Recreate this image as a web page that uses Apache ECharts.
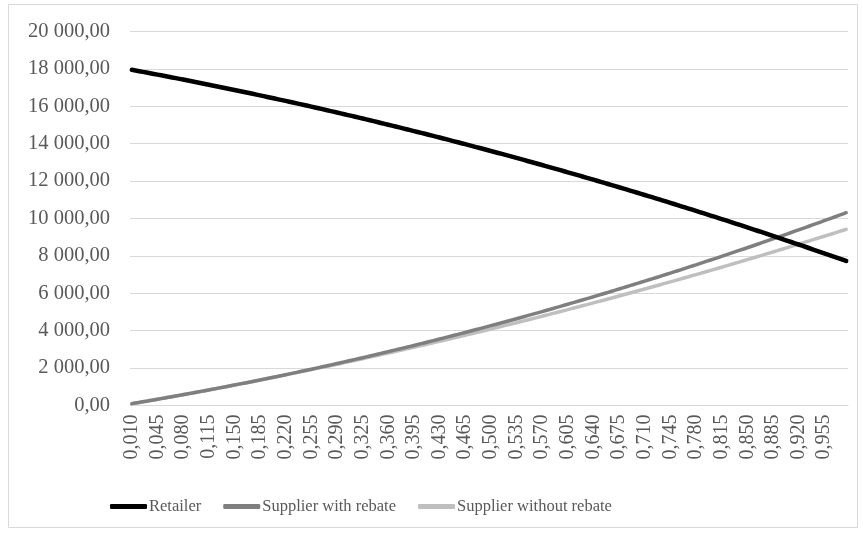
<!DOCTYPE html>
<html>
<head>
<meta charset="utf-8">
<script src="https://cdn.jsdelivr.net/npm/echarts@6/dist/echarts.min.js"></script>
<style>
html,body{margin:0;padding:0;background:#fff;}
#chart{width:863px;height:535px;}
</style>
</head>
<body>
<div id="chart"></div>
<script>
var categories = [
'0,010','0,015','0,020','0,025','0,030','0,035','0,040','0,045','0,050','0,055',
'0,060','0,065','0,070','0,075','0,080','0,085','0,090','0,095','0,100','0,105',
'0,110','0,115','0,120','0,125','0,130','0,135','0,140','0,145','0,150','0,155',
'0,160','0,165','0,170','0,175','0,180','0,185','0,190','0,195','0,200','0,205',
'0,210','0,215','0,220','0,225','0,230','0,235','0,240','0,245','0,250','0,255',
'0,260','0,265','0,270','0,275','0,280','0,285','0,290','0,295','0,300','0,305',
'0,310','0,315','0,320','0,325','0,330','0,335','0,340','0,345','0,350','0,355',
'0,360','0,365','0,370','0,375','0,380','0,385','0,390','0,395','0,400','0,405',
'0,410','0,415','0,420','0,425','0,430','0,435','0,440','0,445','0,450','0,455',
'0,460','0,465','0,470','0,475','0,480','0,485','0,490','0,495','0,500','0,505',
'0,510','0,515','0,520','0,525','0,530','0,535','0,540','0,545','0,550','0,555',
'0,560','0,565','0,570','0,575','0,580','0,585','0,590','0,595','0,600','0,605',
'0,610','0,615','0,620','0,625','0,630','0,635','0,640','0,645','0,650','0,655',
'0,660','0,665','0,670','0,675','0,680','0,685','0,690','0,695','0,700','0,705',
'0,710','0,715','0,720','0,725','0,730','0,735','0,740','0,745','0,750','0,755',
'0,760','0,765','0,770','0,775','0,780','0,785','0,790','0,795','0,800','0,805',
'0,810','0,815','0,820','0,825','0,830','0,835','0,840','0,845','0,850','0,855',
'0,860','0,865','0,870','0,875','0,880','0,885','0,890','0,895','0,900','0,905',
'0,910','0,915','0,920','0,925','0,930','0,935','0,940','0,945','0,950','0,955',
'0,960','0,965','0,970','0,975','0,980','0,985'
];

var retailer = [
17950,17914,17878,17841,17805,17768,17731,17694,17656,17619,
17581,17543,17505,17467,17429,17390,17352,17313,17274,17235,
17195,17156,17116,17076,17036,16996,16956,16915,16875,16834,
16793,16752,16710,16669,16627,16585,16543,16501,16459,16416,
16373,16331,16288,16244,16201,16158,16114,16070,16026,15982,
15937,15893,15848,15803,15758,15713,15668,15622,15576,15531,
15485,15438,15392,15345,15299,15252,15205,15158,15110,15063,
15015,14967,14919,14871,14822,14774,14725,14676,14627,14578,
14529,14479,14429,14379,14329,14279,14229,14178,14127,14076,
14025,13974,13923,13871,13819,13768,13715,13663,13611,13558,
13505,13453,13399,13346,13293,13239,13185,13132,13077,13023,
12969,12914,12859,12805,12749,12694,12639,12583,12527,12471,
12415,12359,12303,12246,12189,12132,12075,12018,11960,11903,
11845,11787,11729,11671,11612,11554,11495,11436,11377,11318,
11258,11199,11139,11079,11019,10958,10898,10837,10776,10716,
10654,10593,10532,10470,10408,10346,10284,10222,10159,10097,
10034,9971,9908,9844,9781,9717,9654,9590,9525,9461,
9397,9332,9267,9202,9137,9072,9006,8941,8875,8809,
8743,8676,8610,8543,8476,8409,8342,8275,8207,8140,
8072,8004,7936,7867,7799,7730
];

var supplierWithRebate = [
100,133,165,199,232,265,299,333,367,402,
436,471,506,541,576,612,648,684,720,756,
793,829,866,904,941,979,1016,1054,1093,1131,
1170,1208,1247,1287,1326,1366,1405,1445,1486,1526,
1567,1607,1648,1690,1731,1773,1815,1857,1899,1941,
1984,2027,2070,2113,2156,2200,2244,2288,2332,2377,
2421,2466,2511,2557,2602,2648,2694,2740,2786,2833,
2879,2926,2973,3021,3068,3116,3164,3212,3260,3309,
3357,3406,3455,3505,3554,3604,3654,3704,3754,3805,
3856,3906,3958,4009,4061,4112,4164,4216,4269,4321,
4374,4427,4480,4534,4587,4641,4695,4749,4803,4858,
4913,4968,5023,5078,5134,5190,5246,5302,5358,5415,
5472,5529,5586,5644,5701,5759,5817,5875,5934,5992,
6051,6110,6169,6229,6289,6348,6408,6469,6529,6590,
6651,6712,6773,6834,6896,6958,7020,7082,7145,7208,
7270,7333,7397,7460,7524,7588,7652,7716,7781,7845,
7910,7976,8041,8106,8172,8238,8304,8370,8437,8504,
8571,8638,8705,8773,8840,8908,8977,9045,9113,9182,
9251,9320,9390,9459,9529,9599,9669,9740,9810,9881,
9952,10023,10094,10166,10238,10310
];

var supplierWithoutRebate = [
100,133,167,201,235,269,304,338,373,408,
443,478,513,548,584,619,655,691,727,764,
800,837,873,910,947,984,1021,1059,1096,1134,
1172,1210,1248,1286,1325,1363,1402,1441,1480,1519,
1559,1598,1638,1677,1717,1757,1798,1838,1878,1919,
1960,2001,2042,2083,2124,2166,2208,2249,2291,2333,
2376,2418,2461,2503,2546,2589,2632,2675,2719,2762,
2806,2850,2894,2938,2982,3027,3071,3116,3161,3206,
3251,3297,3342,3388,3433,3479,3525,3571,3618,3664,
3711,3758,3805,3852,3899,3946,3994,4041,4089,4137,
4185,4233,4282,4330,4379,4428,4477,4526,4575,4625,
4674,4724,4774,4824,4874,4924,4975,5025,5076,5127,
5178,5229,5280,5332,5383,5435,5487,5539,5591,5643,
5696,5749,5801,5854,5907,5960,6014,6067,6121,6175,
6229,6283,6337,6391,6446,6501,6555,6610,6665,6721,
6776,6832,6887,6943,6999,7055,7111,7168,7224,7281,
7338,7395,7452,7509,7567,7625,7682,7740,7798,7856,
7915,7973,8032,8091,8149,8208,8268,8327,8386,8446,
8506,8566,8626,8686,8746,8807,8868,8928,8989,9050,
9112,9173,9235,9296,9358,9420
];

var seriesNames = ['Retailer', 'Supplier with rebate', 'Supplier without rebate'];

function fmtY(v) {
  var s = Math.round(v).toString().replace(/\B(?=(\d{3})+(?!\d))/g, ' ');
  return s + ',00';
}

var FONT = '"Liberation Serif","Times New Roman",serif';
var chart = echarts.init(document.getElementById('chart'), null, {renderer: 'canvas'});
chart.setOption({
  animation: false,
  backgroundColor: '#ffffff',
  graphic: [{
    type: 'rect',
    shape: {x: 8.5, y: 4.5, width: 849, height: 523},
    style: {fill: 'none', stroke: '#d9d9d9', lineWidth: 1},
    silent: true
  }],
  grid: {left: 130, right: 15, top: 31.5, bottom: 129.5, containLabel: false},
  legend: {
    left: 105,
    top: 493,
    itemWidth: 37,
    itemHeight: 5,
    itemGap: 22,
    icon: 'roundRect',
    textStyle: {fontFamily: FONT, fontSize: 16.5, color: '#595959', padding: [0, 0, 0, -3]},
    data: seriesNames
  },
  xAxis: {
    type: 'category',
    data: categories,
    boundaryGap: true,
    axisLine: {show: true, lineStyle: {color: '#d9d9d9', width: 1}},
    axisTick: {show: false},
    axisLabel: {
      interval: 6,
      rotate: 90,
      margin: 9,
      fontFamily: FONT,
      fontSize: 20,
      color: '#595959'
    },
    splitLine: {show: false}
  },
  yAxis: {
    type: 'value',
    min: 0,
    max: 20000,
    interval: 2000,
    axisLine: {show: false},
    axisTick: {show: false},
    axisLabel: {
      margin: 20,
      fontFamily: FONT,
      fontSize: 20.5,
      color: '#595959',
      formatter: fmtY
    },
    splitLine: {show: true, lineStyle: {color: '#d9d9d9', width: 1}}
  },
  series: [
    {
      name: seriesNames[0], type: 'line', data: retailer, showSymbol: false, symbol: 'none', z: 5,
      lineStyle: {color: '#000000', width: 4.5, cap: 'round', join: 'round'},
      itemStyle: {color: '#000000'}
    },
    {
      name: seriesNames[1], type: 'line', data: supplierWithRebate, showSymbol: false, symbol: 'none', z: 4,
      lineStyle: {color: '#7f7f7f', width: 3.5, cap: 'round', join: 'round'},
      itemStyle: {color: '#7f7f7f'}
    },
    {
      name: seriesNames[2], type: 'line', data: supplierWithoutRebate, showSymbol: false, symbol: 'none', z: 3,
      lineStyle: {color: '#bfbfbf', width: 3.5, cap: 'round', join: 'round'},
      itemStyle: {color: '#bfbfbf'}
    }
  ]
});
</script>
</body>
</html>
